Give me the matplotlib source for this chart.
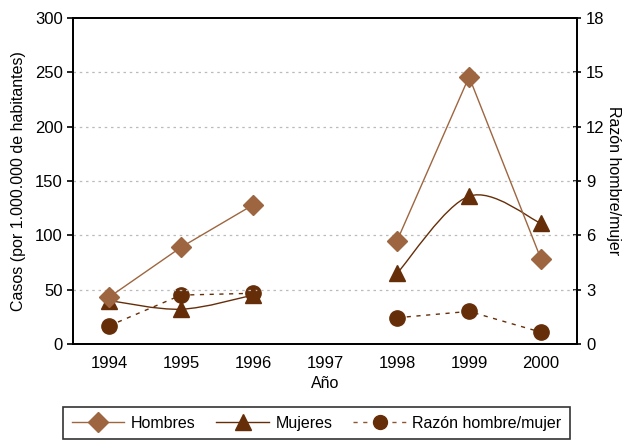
""" Casos por 1.000.000 de habitantes y razón hombre/mujer, 1994-2000. """

import numpy as np
import matplotlib.pyplot as plt
from matplotlib.path import Path
from matplotlib.patches import PathPatch
from matplotlib.lines import Line2D

plt.rcParams["font.family"] = ["Liberation Sans", "DejaVu Sans"]

years = [1994, 1995, 1996, 1997, 1998, 1999, 2000]
hombres = [43, 89, 128, np.nan, 95, 246, 78]
mujeres = [40, 32, 45, np.nan, 65, 136, 111]
razon = [1.0, 2.7, 2.8, np.nan, 1.45, 1.8, 0.65]

light_brown = "#9E6640"
dark_brown = "#662E08"


def smooth_path(xs, ys):
    """ Bezier path through the points, like a spreadsheet smoothed line. """
    pts = np.column_stack([xs, ys])
    verts = [pts[0]]
    codes = [Path.MOVETO]
    n = len(pts)
    for i in range(n - 1):
        p0 = pts[max(i - 1, 0)]
        p1 = pts[i]
        p2 = pts[i + 1]
        p3 = pts[min(i + 2, n - 1)]
        verts += [p1 + (p2 - p0) / 6, p2 - (p3 - p1) / 6, p2]
        codes += [Path.CURVE4] * 3
    return Path(verts, codes)


def segments(xs, ys):
    """ Split a series at its missing values. """
    out, cur = [], []
    for x, y in zip(xs, ys):
        if np.isnan(y):
            if cur:
                out.append(cur)
            cur = []
        else:
            cur.append((x, y))
    if cur:
        out.append(cur)
    return out


def main():
    fig = plt.figure(figsize=(6.27, 4.41), dpi=100)
    ax = fig.add_axes([0.1164, 0.22, 0.804, 0.739])
    ax2 = ax.twinx()

    ax.plot(years, hombres, color=light_brown, lw=1.0, marker="D", ms=10,
            mec=light_brown, mfc=light_brown, zorder=4)

    for seg in segments(years, mujeres):
        xs, ys = zip(*seg)
        ax.add_patch(PathPatch(smooth_path(xs, ys), fill=False,
                               ec=dark_brown, lw=1.0, zorder=3))
    ax.plot(years, mujeres, ls="none", marker="^", ms=11, color=dark_brown,
            zorder=3)

    ax2.plot(years, razon, color=dark_brown, lw=1.0, ls=(0, (3, 4)),
             marker="o", ms=11, zorder=3)

    ax.set_xlim(1993.5, 2000.5)
    ax.set_ylim(0, 300)
    ax2.set_ylim(0, 18)
    ax.set_xticks(years)
    ax.set_yticks(range(0, 301, 50))
    ax2.set_yticks(range(0, 19, 3))

    for y in range(50, 300, 50):
        ax.axhline(y, color="#BBBBBB", lw=0.9, ls=(0, (2, 3)), zorder=0)

    ax.set_zorder(ax2.get_zorder() + 1)
    ax.patch.set_visible(False)

    for a in (ax, ax2):
        for sp in a.spines.values():
            sp.set_linewidth(1.3)
    ax.tick_params(axis="x", length=0, labelsize=12, pad=9)
    ax.tick_params(axis="y", direction="out", length=4, width=1.2,
                   labelsize=12)
    ax2.tick_params(axis="y", direction="inout", length=6, width=1.2,
                    labelsize=12)

    ax.set_xlabel("Año", size=11.5, labelpad=3)
    ax.set_ylabel("Casos (por 1.000.000 de habitantes)", size=11.5,
                  labelpad=6)
    ax2.set_ylabel("Razón hombre/mujer", size=11.5, rotation=270,
                   labelpad=12)

    handles = [
        Line2D([], [], color=light_brown, lw=1.0, marker="D", ms=10),
        Line2D([], [], color=dark_brown, lw=1.0, marker="^", ms=11),
        Line2D([], [], color="#8A5533", lw=1.0, ls=(0, (3, 4)), marker="o",
               ms=10, mfc=dark_brown, mec=dark_brown),
    ]
    leg = fig.legend(handles, ["Hombres", "Mujeres", "Razón hombre/mujer"],
                     loc="lower center", bbox_to_anchor=(0.505, 0.0),
                     ncol=3, fontsize=11.5, frameon=True, fancybox=False,
                     edgecolor="black", handlelength=3.3, handletextpad=0.4,
                     columnspacing=1.3, borderpad=0.55, borderaxespad=0.1)
    leg.get_frame().set_linewidth(1.2)

    fig.savefig("out.png", dpi=100)


if __name__ == "__main__":
    main()
